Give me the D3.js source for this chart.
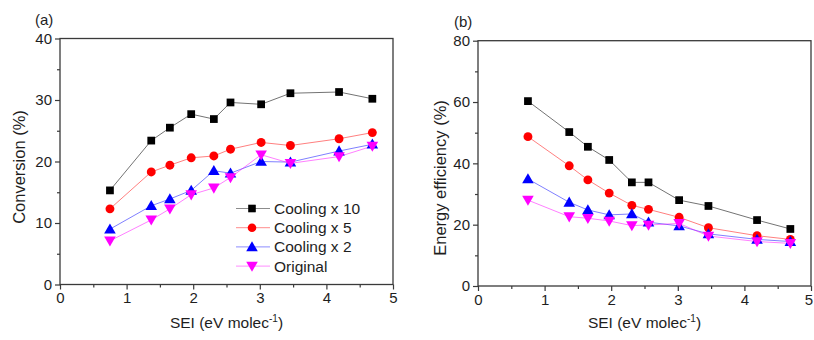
<!DOCTYPE html>
<html>
<head>
<meta charset="utf-8">
<script src="https://cdn.jsdelivr.net/npm/d3@7"></script>
<style>
  html, body { margin: 0; padding: 0; background: #fff; }
  svg { display: block; font-family: "Liberation Sans", Arial, sans-serif; }
</style>
</head>
<body>
<svg id="chart" width="814" height="340"></svg>
<script>
// Specific energy input (eV per molecule)
const sei = [0.75, 1.37, 1.65, 1.97, 2.31, 2.56, 3.02, 3.46, 4.19, 4.69];

const seriesNames = ["Cooling x 10", "Cooling x 5", "Cooling x 2", "Original"];
const seriesColors = ["#000000", "#ff0000", "#0000ff", "#ff00ff"];
const seriesSymbols = ["square", "circle", "triangleUp", "triangleDown"];

// Conversion (%)
const convCooling10 = [15.3, 23.4, 25.5, 27.7, 26.9, 29.6, 29.3, 31.1, 31.3, 30.2];
const convCooling5  = [12.3, 18.3, 19.4, 20.6, 20.9, 22.0, 23.1, 22.6, 23.7, 24.7];
const convCooling2  = [9.0, 12.8, 13.9, 15.3, 18.5, 18.1, 20.0, 19.9, 21.7, 22.8];
const convOriginal  = [7.1, 10.5, 12.3, 14.6, 15.7, 17.4, 21.1, 19.7, 20.8, 22.5];

// Energy efficiency (%)
const effCooling10 = [60.3, 50.2, 45.4, 41.1, 33.8, 33.8, 28.0, 26.1, 21.5, 18.6];
const effCooling5  = [48.7, 39.2, 34.6, 30.3, 26.3, 25.0, 22.4, 19.0, 16.4, 15.2];
const effCooling2  = [34.9, 27.3, 24.8, 23.2, 23.5, 20.8, 19.6, 17.0, 15.2, 14.5];
const effOriginal  = [28.0, 22.6, 22.1, 21.2, 19.7, 19.9, 20.4, 16.3, 14.5, 13.9];

const xTicks = [0, 1, 2, 3, 4, 5];
const convTicks = [0, 10, 20, 30, 40];
const effTicks = [0, 20, 40, 60, 80];

const svg = d3.select("#chart");
const axisColor = "#3a3a3a";
const textColor = "#1e1e1e";

function symbolPath(kind, size) {
  if (kind === "square") return d3.symbol(d3.symbolSquare, size)();
  if (kind === "circle") return d3.symbol(d3.symbolCircle, size)();
  return d3.symbol(d3.symbolTriangle, size)(); // down-pointing ones are rotated
}

function drawPanel(opt) {
  const x = d3.scaleLinear().domain([0, 5]).range([opt.left, opt.right]);
  const y = d3.scaleLinear().domain([0, opt.yMax]).range([opt.bottom, opt.top]);
  const g = svg.append("g");

  // frame
  g.append("rect")
    .attr("x", opt.left).attr("y", opt.top)
    .attr("width", opt.right - opt.left).attr("height", opt.bottom - opt.top)
    .attr("fill", "none").attr("stroke", axisColor).attr("stroke-width", 1.3);

  // x axis: major + minor ticks
  const xa = g.append("g").attr("transform", `translate(0,${opt.bottom})`)
    .call(d3.axisBottom(x).tickValues(xTicks).tickSize(5).tickPadding(3).tickFormat(d3.format("d")));
  const xm = g.append("g").attr("transform", `translate(0,${opt.bottom})`)
    .call(d3.axisBottom(x).tickValues([0.5, 1.5, 2.5, 3.5, 4.5]).tickSize(3).tickFormat(""));

  const ya = g.append("g").attr("transform", `translate(${opt.left},0)`)
    .call(d3.axisLeft(y).tickValues(opt.yTicks).tickSize(5).tickPadding(3).tickFormat(d3.format("d")));
  const minors = opt.yTicks.slice(0, -1).map((t, i) => (t + opt.yTicks[i + 1]) / 2);
  const ym = g.append("g").attr("transform", `translate(${opt.left},0)`)
    .call(d3.axisLeft(y).tickValues(minors).tickSize(3).tickFormat(""));

  [xa, xm, ya, ym].forEach(a => {
    a.select(".domain").remove();
    a.selectAll("line").attr("stroke", axisColor).attr("stroke-width", 1.2);
    a.selectAll("text").attr("fill", textColor).style("font-size", "15px")
      .style("font-family", "Liberation Sans, Arial, sans-serif");
  });
  // keep the last x label inside the page edge
  if (opt.nudgeLast) {
    xa.selectAll(".tick text").filter(d => d === 5).attr("dx", opt.nudgeLast);
  }

  // series lines
  opt.series.forEach((vals, si) => {
    const pts = sei.map((s, i) => [s, vals[i]]);
    g.append("path")
      .datum(pts)
      .attr("fill", "none")
      .attr("stroke", seriesColors[si])
      .attr("stroke-opacity", si === 0 ? 0.55 : 0.5)
      .attr("stroke-width", 1)
      .attr("d", d3.line().x(d => x(d[0])).y(d => y(d[1])));
  });
  // series markers
  opt.series.forEach((vals, si) => {
    g.append("g").selectAll("path")
      .data(sei.map((s, i) => [s, vals[i]]))
      .join("path")
      .attr("d", symbolPath(seriesSymbols[si], si === 1 ? 62 : (si === 0 ? 60 : 58)))
      .attr("transform", d => `translate(${x(d[0])},${y(d[1]) + (si === 2 ? 1 : si === 3 ? -1 : 0)})` + (si === 3 ? " rotate(180)" : ""))
      .attr("fill", seriesColors[si]);
  });

  // panel letter
  g.append("text").attr("x", opt.letterX).attr("y", opt.letterY)
    .attr("fill", textColor).style("font-size", "15px").text(opt.letter);

  // y title
  g.append("text")
    .attr("transform", `translate(${opt.yTitleX},${opt.yTitleY}) rotate(-90)`)
    .attr("text-anchor", "middle").attr("fill", textColor).style("font-size", "16.5px")
    .text(opt.yTitle);

  // x title with superscript
  const xt = g.append("text")
    .attr("x", (opt.left + opt.right) / 2).attr("y", 328)
    .attr("text-anchor", "middle").attr("fill", textColor).style("font-size", "15.5px");
  xt.append("tspan").text("SEI (eV molec");
  xt.append("tspan").attr("dy", -6).style("font-size", "10px").text("-1");
  xt.append("tspan").attr("dy", 6).text(")");

  return { x, y, g };
}

drawPanel({
  left: 60, right: 393, top: 38.5, bottom: 284.5, yMax: 40, yTicks: convTicks,
  series: [convCooling10, convCooling5, convCooling2, convOriginal],
  letter: "(a)", letterX: 35, letterY: 25,
  yTitle: "Conversion (%)", yTitleX: 24.5, yTitleY: 167
});

drawPanel({
  left: 478, right: 811, top: 40.7, bottom: 286, yMax: 80, yTicks: effTicks,
  series: [effCooling10, effCooling5, effCooling2, effOriginal],
  letter: "(b)", letterX: 454, letterY: 27,
  yTitle: "Energy efficiency (%)", yTitleX: 445.5, yTitleY: 178,
  nudgeLast: -2.5
});

// legend in panel (a)
const legend = svg.append("g");
seriesNames.forEach((name, i) => {
  const ly = 208.5 + i * 19.2;
  legend.append("line").attr("x1", 236).attr("x2", 270).attr("y1", ly).attr("y2", ly)
    .attr("stroke", seriesColors[i]).attr("stroke-opacity", 0.45).attr("stroke-width", 1);
  legend.append("path")
    .attr("d", symbolPath(seriesSymbols[i], 58))
    .attr("transform", `translate(252,${ly + (i === 2 ? 1 : i === 3 ? -1 : 0)})` + (i === 3 ? " rotate(180)" : ""))
    .attr("fill", seriesColors[i]);
  legend.append("text").attr("x", 274).attr("y", ly + 5.5)
    .attr("fill", textColor).style("font-size", "15.5px").text(name);
});
</script>
</body>
</html>
